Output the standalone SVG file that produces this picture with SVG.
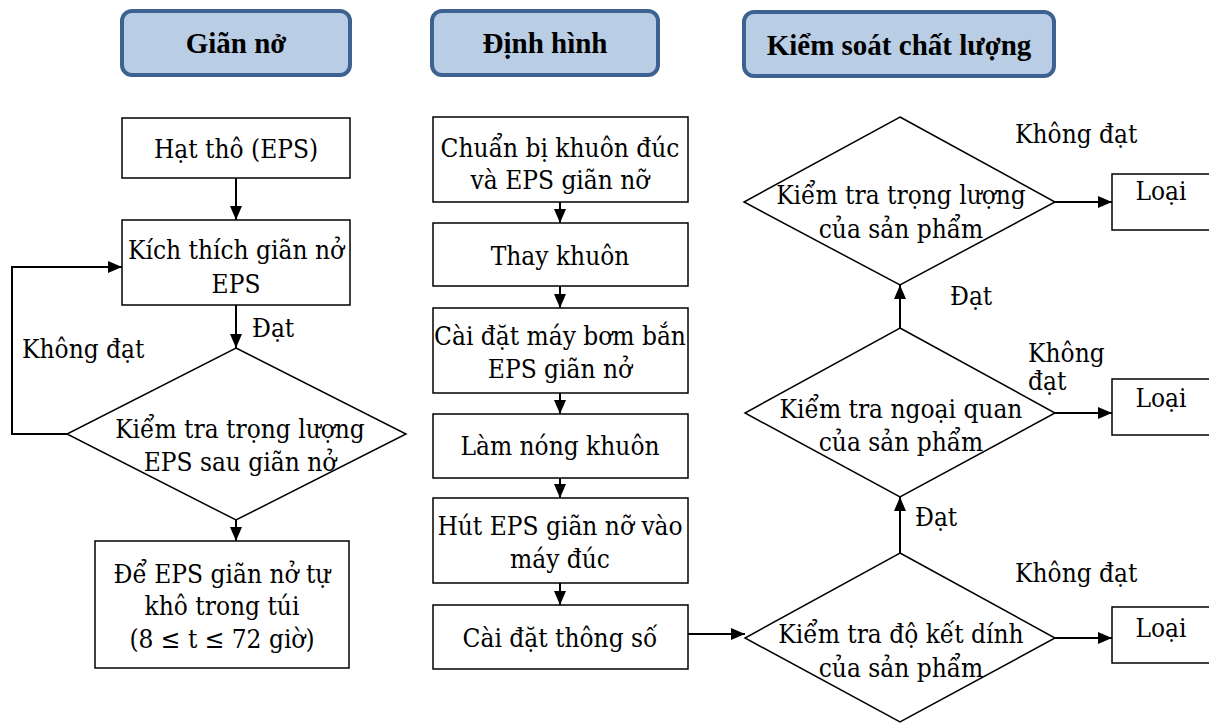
<svg xmlns="http://www.w3.org/2000/svg" width="1209" height="723" viewBox="0 0 1209 723">
<defs>
<style>
.hdr rect{fill:#b9cde4;stroke:#3d6190;stroke-width:4}
.hdr text{font-family:"Liberation Serif","Times New Roman",serif;font-weight:bold;font-size:29px;fill:#000;text-anchor:middle}
.n rect,.n polygon{fill:#fff;stroke:#000;stroke-width:1.5}
.t,.lbl{font-family:"DejaVu Serif Condensed","DejaVu Serif",serif;font-stretch:condensed;font-size:26px;fill:#000}
.t{text-anchor:middle}
.c line,.c polyline{stroke:#000;stroke-width:2;fill:none;marker-end:url(#arr)}
</style>
<marker id="arr" markerWidth="14" markerHeight="12" refX="14" refY="6" orient="auto" markerUnits="userSpaceOnUse"><path d="M0,0 L14,6 L0,12 z" fill="#000"/></marker>
</defs>
<rect width="1209" height="723" fill="#fff"/>

<g id="hdr1" class="hdr"><rect x="122" y="11" width="228" height="64" rx="10"/><text x="236" y="53">Giãn nở</text></g>
<g id="hdr2" class="hdr"><rect x="432" y="11" width="226" height="64" rx="10"/><text x="545" y="53">Định hình</text></g>
<g id="hdr3" class="hdr"><rect x="744" y="12" width="310" height="64" rx="10"/><text x="899" y="55">Kiểm soát chất lượng</text></g>

<g id="n_hat" class="n"><rect x="122" y="118" width="228" height="60"/><text class="t" x="236" y="158">Hạt thô (EPS)</text></g>
<g id="n_kich" class="n"><rect x="122" y="220" width="228" height="85"/><text class="t" x="236" y="259">Kích thích giãn nở</text><text class="t" x="236" y="293">EPS</text></g>
<g id="n_kt1" class="n"><polygon points="236,348 406,434 236,520 67,434"/><text class="t" x="240" y="438">Kiểm tra trọng lượng</text><text class="t" x="240" y="471">EPS sau giãn nở</text></g>
<g id="n_de" class="n"><rect x="95" y="541" width="254" height="127"/><text class="t" x="222" y="583">Để EPS giãn nở tự</text><text class="t" x="222" y="615">khô trong túi</text><text class="t" x="222" y="648">(8 ≤ t ≤ 72 giờ)</text></g>

<g id="n_chuan" class="n"><rect x="433" y="117" width="255" height="85"/><text class="t" x="560" y="157">Chuẩn bị khuôn đúc</text><text class="t" x="560" y="189">và EPS giãn nỡ</text></g>
<g id="n_thay" class="n"><rect x="433" y="223" width="255" height="63"/><text class="t" x="560" y="265">Thay khuôn</text></g>
<g id="n_cai" class="n"><rect x="433" y="308" width="255" height="85"/><text class="t" x="560" y="345">Cài đặt máy bơm bắn</text><text class="t" x="560" y="378">EPS giãn nở</text></g>
<g id="n_lam" class="n"><rect x="433" y="414" width="255" height="64"/><text class="t" x="560" y="455">Làm nóng khuôn</text></g>
<g id="n_hut" class="n"><rect x="433" y="498" width="255" height="85"/><text class="t" x="560" y="535">Hút EPS giãn nỡ vào</text><text class="t" x="560" y="568">máy đúc</text></g>
<g id="n_ts" class="n"><rect x="433" y="605" width="255" height="64"/><text class="t" x="560" y="647">Cài đặt thông số</text></g>

<g id="n_d1" class="n"><polygon points="900,117 1055,202 900,285 744,202"/><text class="t" x="901" y="204">Kiểm tra trọng lượng</text><text class="t" x="901" y="238">của sản phẩm</text></g>
<g id="n_d2" class="n"><polygon points="900,328 1055,413 900,497 745,413"/><text class="t" x="901" y="418">Kiểm tra ngoại quan</text><text class="t" x="901" y="451">của sản phẩm</text></g>
<g id="n_d3" class="n"><polygon points="900,553 1055,638 900,722 745,638"/><text class="t" x="901" y="643">Kiểm tra độ kết dính</text><text class="t" x="901" y="677">của sản phẩm</text></g>
<g id="n_l1" class="n"><rect x="1112" y="174" width="110" height="56"/><text class="t" x="1161" y="200">Loại</text></g>
<g id="n_l2" class="n"><rect x="1112" y="379" width="110" height="56"/><text class="t" x="1161" y="407">Loại</text></g>
<g id="n_l3" class="n"><rect x="1112" y="607" width="110" height="56"/><text class="t" x="1161" y="637">Loại</text></g>

<g id="connectors" class="c">
<line x1="236" y1="178" x2="236" y2="220"/>
<line x1="236" y1="305" x2="236" y2="348"/>
<polyline points="67,434 12,434 12,267 122,267"/>
<line x1="236" y1="520" x2="236" y2="541"/>
<line x1="560" y1="202" x2="560" y2="223"/>
<line x1="560" y1="286" x2="560" y2="308"/>
<line x1="560" y1="393" x2="560" y2="414"/>
<line x1="560" y1="478" x2="560" y2="498"/>
<line x1="560" y1="583" x2="560" y2="605"/>
<line x1="688" y1="634" x2="745" y2="634"/>
<line x1="900" y1="553" x2="900" y2="497"/>
<line x1="900" y1="328" x2="900" y2="285"/>
<line x1="1055" y1="202" x2="1112" y2="202"/>
<line x1="1055" y1="413" x2="1112" y2="413"/>
<line x1="1055" y1="638" x2="1112" y2="638"/>
</g>
<g id="labels">
<text class="lbl" x="252" y="337">Đạt</text>
<text class="lbl" x="22" y="358">Không đạt</text>
<text class="lbl" x="1015" y="143">Không đạt</text>
<text class="lbl" x="950" y="305">Đạt</text>
<text class="lbl" x="1028" y="362">Không</text>
<text class="lbl" x="1028" y="390">đạt</text>
<text class="lbl" x="915" y="526">Đạt</text>
<text class="lbl" x="1015" y="582">Không đạt</text>
</g>
</svg>
